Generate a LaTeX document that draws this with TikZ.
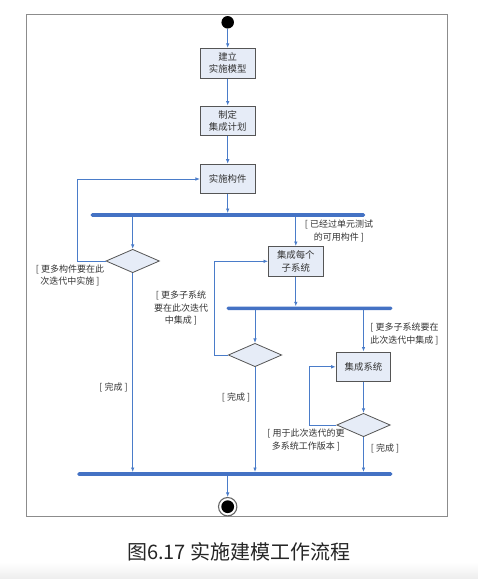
\documentclass[tikz,border=0pt]{standalone}
\usepackage{fontspec}
\setmainfont{Liberation Serif}
\newfontfamily\cjk{Noto Sans CJK SC}
\usetikzlibrary{arrows.meta,shapes.geometric}
\definecolor{lineblue}{HTML}{4A7CC9}
\definecolor{barblue}{HTML}{4472C4}
\definecolor{boxfill}{HTML}{E6ECF7}
\definecolor{boxline}{HTML}{555555}
\definecolor{labtext}{HTML}{333333}
\begin{document}
\begin{tikzpicture}[x=1pt,y=-1pt,
  act/.style={draw=boxline, line width=0.9pt, fill=boxfill, minimum width=54.7pt, minimum height=29.7pt, inner sep=0pt, align=center, font=\cjk\fontsize{9.4}{12.3}\selectfont, text=labtext},
  dec/.style={diamond, draw=boxline, line width=0.8pt, fill=boxfill, minimum width=53.5pt, minimum height=23.4pt, inner sep=0pt},
  bar/.style={fill=barblue, rounded corners=1.5pt, minimum height=3.6pt, inner sep=0pt},
  flow/.style={draw=lineblue, line width=0.8pt, -{Latex[length=4.5pt,width=3.6pt]}},
  lab/.style={font=\cjk\fontsize{9}{12.2}\selectfont, text=labtext, align=center, inner sep=0pt},
  framebox/.style={draw=black!45, line width=1pt}
]
\useasboundingbox (0,0) rectangle (478,579);
\shade[top color=white, bottom color=black!7] (0,562) rectangle (478,579);
\draw[framebox] (26.7,14.7) rectangle (447,516.7);

\node[circle, fill=black, minimum size=12.5pt, inner sep=0pt] (start) at (227.7,22.3) {};
\node[act] (box1) at (227.7,63.2) {建立\\实施模型};
\node[act] (box2) at (227.7,120.8) {制定\\集成计划};
\node[act] (box3) at (227.7,179) {实施构件};
\node[bar, minimum width=274.3pt] (bar1) at (227.85,215) {};
\node[dec] (d1) at (132.7,261) {};
\node[act] (box4) at (295.8,261.3) {集成每个\\子系统};
\node[bar, minimum width=165.6pt] (bar2) at (309.5,308.3) {};
\node[dec] (d2) at (255,355) {};
\node[act] (box5) at (363.5,366.8) {集成系统};
\node[dec] (d3) at (363.5,425) {};
\node[bar, minimum width=315pt] (bar3) at (234.8,474) {};
\node[circle, draw=black!60, line width=1.1pt, fill=white, minimum size=18.4pt, inner sep=0pt] (end) at (227.7,506.7) {};
\fill[black] (end.center) circle (6.4pt);

\coordinate (l1) at (77.7,261);
\coordinate (l2) at (214,355);
\coordinate (l3) at (309.3,425);

\draw[flow] (start) -- (box1);
\draw[flow] (box1) -- (box2);
\draw[flow] (box2) -- (box3);
\draw[flow] (box3.south) -- (box3 |- bar1.north);
\draw[flow] (d1 |- bar1.south) -- (d1.north);
\draw[flow] (d1.west) -- (l1) |- (box3.west);
\draw[flow] (box4 |- bar1.south) -- (box4.north);
\draw[flow] (box4.south) -- (box4 |- bar2.north);
\draw[flow] (d2 |- bar2.south) -- (d2.north);
\draw[flow] (d2.west) -- (l2) |- (box4.west);
\draw[flow] (box5 |- bar2.south) -- (box5.north);
\draw[flow] (box5.south) -- (d3.north);
\draw[flow] (d3.west) -- (l3) |- (box5.west);
\draw[flow] (d1.south) -- (d1 |- bar3.north);
\draw[flow] (d2.south) -- (d2 |- bar3.north);
\draw[flow] (d3.south) -- (d3 |- bar3.north);
\draw[flow] (end |- bar3.south) -- (end.north);

\node[lab] (lab1) at (70,275.5) {[ 更多构件要在此\\次迭代中实施 ]};
\node[lab] (lab2) at (339,231) {[ 已经过单元测试\\的可用构件 ]};
\node[lab] (lab3) at (181,308) {[ 更多子系统\\要在此次迭代\\中集成 ]};
\node[lab, align=left] (lab4) at (404.5,334) {[ 更多子系统要在\\此次迭代中集成 ]};
\node[lab] (lab5) at (236,397) {[ 完成 ]};
\node[lab] (lab6) at (306,440) {[ 用于此次迭代的更\\多系统工作版本 ]};
\node[lab] (lab7) at (385,448.3) {[ 完成 ]};
\node[lab] (lab8) at (113.5,387.3) {[ 完成 ]};
\node[font=\cjk\fontsize{20}{24}\selectfont, text=black!85, inner sep=0pt] (cap) at (238.7,551.7) {图6.17 实施建模工作流程};
\end{tikzpicture}
\end{document}
